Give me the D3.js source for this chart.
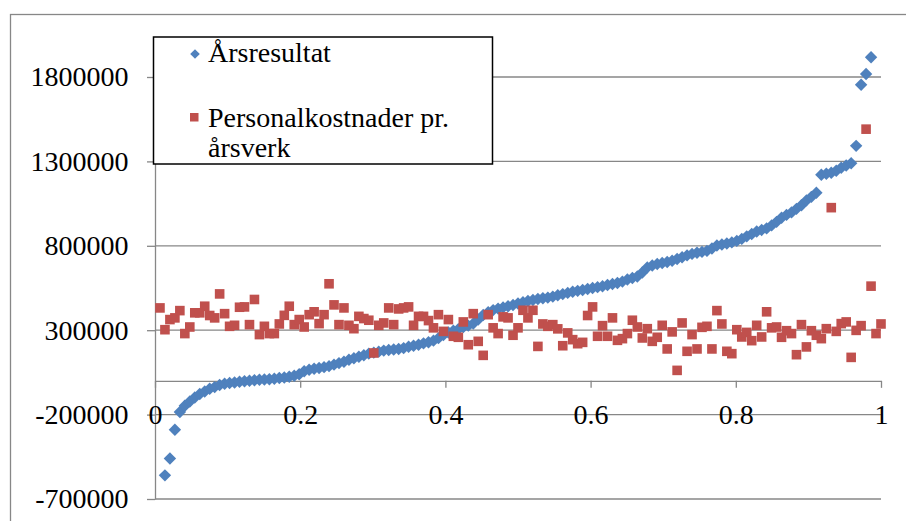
<!DOCTYPE html>
<html>
<head>
<meta charset="utf-8">
<script src="https://cdn.jsdelivr.net/npm/d3@7"></script>
<style>
  html, body { margin: 0; padding: 0; background: #fff; }
  svg { display: block; }
  text { font-family: "Liberation Serif", "Times New Roman", serif; fill: #000; }
</style>
</head>
<body>
<svg id="chart" width="906" height="521"></svg>
<script>
// ---- Data ----
const seriesNames = ["Årsresultat", "Personalkostnader pr. årsverk"];
const legendLines = [["Årsresultat"], ["Personalkostnader pr.", "årsverk"]];

// Årsresultat, sorted; null = outside the visible axis range
const arsresultat = [
  null, -560000, -460000, -290000, -185000, -148000, -122000, -99000, -78000, -63000,
  -47000, -37000, -25000, -17000, -13000, -9500, -5300, -2400, 600, 3600,
  6500, 7700, 9500, 12500, 16600, 19600, 24300, 30000, 39000, 57000,
  66000, 72000, 76000, 81000, 87000, 96000, 105000, 113000, 125000, 134000,
  143000, 152000, 161000, 167000, 173000, 179000, 183000, 186000, 189000, 194000,
  202000, 208000, 214000, 222000, 229000, 238000, 253000, 271000, 286000, 297000,
  306000, 318000, 327000, 339000, 363000, 390000, 407000, 419000, 428000, 435000,
  442000, 449000, 458000, 466000, 473000, 479000, 485000, 489000, 493000, 499000,
  507000, 514000, 521000, 528000, 533000, 538000, 544000, 550000, 555000, 560000,
  568000, 574000, 580000, 588000, 600000, 609000, 618000, 642000, 672000, 683000,
  692000, 698000, 704000, 711000, 722000, 732000, 743000, 752000, 759000, 764000,
  770000, 784000, 802000, 808000, 814000, 820000, 829000, 841000, 856000, 870000,
  885000, 894000, 903000, 921000, 942000, 966000, 983000, 998000, 1019000, 1040000,
  1069000, 1090000, 1114000, 1221000, 1227000, 1233000, 1245000, 1262000, 1276000, 1289000,
  1392000, 1754000, 1818000, 1917000, null, null
];

// Personalkostnader pr. årsverk (same companies, same order)
const personalkostnader = [
  432000, 303000, 363000, 373000, 416000, 280000, 319000, 403000, 403000, 442000,
  387000, 373000, 515000, 398000, 323000, 329000, 436000, 438000, 333000, 482000,
  274000, 323000, 280000, 280000, 337000, 388000, 442000, 333000, 363000, 319000,
  392000, 409000, 339000, 392000, 575000, 450000, 333000, 432000, 329000, 309000,
  382000, 369000, 359000, 165000, 329000, 343000, 432000, 333000, 426000, 432000,
  438000, 329000, 382000, 382000, 357000, 314000, 392000, 293000, 363000, 264000,
  258000, 349000, 214000, 398000, 234000, 151000, 392000, 314000, 280000, 379000,
  373000, 270000, 314000, 418000, 373000, 418000, 204000, 337000, 323000, 333000,
  308000, 208000, 284000, 244000, 220000, 228000, 387000, 438000, 264000, 327000,
  264000, 373000, 240000, 250000, 280000, 359000, 319000, 254000, 309000, 234000,
  258000, 329000, 189000, 290000, 62000, 343000, 175000, 274000, 189000, 317000,
  323000, 189000, 416000, 337000, 175000, 161000, 303000, 260000, 287000, 238000,
  329000, 260000, 409000, 314000, 319000, 258000, 297000, 280000, 155000, 333000,
  201000, 297000, 270000, 250000, 309000, 1026000, 293000, 339000, 349000, 139000,
  299000, 327000, 1491000, 561000, 280000, 337000
];

const yTicks = [-700000, -200000, 300000, 800000, 1300000, 1800000];
const yTickLabels = ["-700000", "-200000", "300000", "800000", "1300000", "1800000"];
const xTicks = [0, 0.2, 0.4, 0.6, 0.8, 1];
const xTickLabels = ["0", "0.2", "0.4", "0.6", "0.8", "1"];
const yDomain = [-700000, 2000000];
const xDomain = [0, 1];

// percentile rank of each company (rank / count)
const count = personalkostnader.length;
const rows = personalkostnader.map((p, k) => ({
  rank: (k + 1) / count,
  res: arsresultat[k],
  pers: p
}));

// ---- Drawing ----
const svg = d3.select("#chart");
const GRID = "#878787";
const BLUE = "#4F81BD";
const RED = "#C0504D";
const FONT = 28;

const x = d3.scaleLinear().domain(xDomain).range([155, 881]);
const y = d3.scaleLinear().domain(yDomain).range([499, 43.24]);

// outer chart border
svg.append("rect")
  .attr("x", 10.5).attr("y", 14.5)
  .attr("width", 1000).attr("height", 1000)
  .attr("fill", "none").attr("stroke", GRID).attr("stroke-width", 1.3);

// horizontal gridlines
svg.append("g").selectAll("line").data(yTicks).join("line")
  .attr("x1", x(0)).attr("x2", x(1))
  .attr("y1", d => y(d)).attr("y2", d => y(d))
  .attr("stroke", GRID).attr("stroke-width", 1.3);

// y axis
const yAxis = svg.append("g")
  .attr("transform", `translate(${x(0)},0)`)
  .call(d3.axisLeft(y).tickValues(yTicks).tickSize(8).tickSizeOuter(0)
        .tickPadding(18.5).tickFormat((d, i) => yTickLabels[i]));
yAxis.select(".domain").attr("stroke", GRID).attr("stroke-width", 1.3);
yAxis.selectAll(".tick line").attr("stroke", GRID).attr("stroke-width", 1.3);
yAxis.selectAll(".tick text")
  .style("font-family", '"Liberation Serif", serif')
  .style("font-size", FONT + "px").attr("fill", "#000");

// x axis at zero
const xAxis = svg.append("g")
  .attr("transform", `translate(0,${y(0)})`)
  .call(d3.axisBottom(x).tickValues(xTicks).tickSize(7).tickSizeOuter(0)
        .tickPadding(15.8).tickFormat((d, i) => xTickLabels[i]));
xAxis.select(".domain").attr("stroke", GRID).attr("stroke-width", 1.3);
xAxis.selectAll(".tick line").attr("stroke", GRID).attr("stroke-width", 1.3);
xAxis.selectAll(".tick text")
  .style("font-family", '"Liberation Serif", serif')
  .style("font-size", FONT + "px").attr("fill", "#000");

// series
const diamond = r => `M0,${-r}L${r},0L0,${r}L${-r},0Z`;
svg.append("g").selectAll("path")
  .data(rows.filter(d => d.res !== null && d.res >= yDomain[0] && d.res <= yDomain[1]))
  .join("path")
  .attr("d", diamond(6.2))
  .attr("transform", d => `translate(${x(d.rank)},${y(d.res)})`)
  .attr("fill", BLUE);

const sq = 9.6;
svg.append("g").selectAll("rect")
  .data(rows.filter(d => d.pers !== null))
  .join("rect")
  .attr("x", d => x(d.rank) - sq / 2)
  .attr("y", d => y(d.pers) - sq / 2)
  .attr("width", sq).attr("height", sq)
  .attr("fill", RED);

// legend
const lg = svg.append("g");
lg.append("rect")
  .attr("x", 153.5).attr("y", 37).attr("width", 339).attr("height", 127)
  .attr("fill", "#fff").attr("stroke", "#000").attr("stroke-width", 1.5);
lg.append("path").attr("d", diamond(4.8))
  .attr("transform", "translate(195,54)").attr("fill", BLUE);
lg.append("rect").attr("x", 190).attr("y", 113).attr("width", 8.5).attr("height", 8.5)
  .attr("fill", RED);
const lineY = [[61.7], [127.3, 156.7]];
legendLines.forEach((lines, si) => {
  lines.forEach((t, li) => {
    lg.append("text")
      .attr("x", 208).attr("y", lineY[si][li])
      .style("font-size", FONT + "px")
      .text(t);
  });
});
</script>
</body>
</html>
